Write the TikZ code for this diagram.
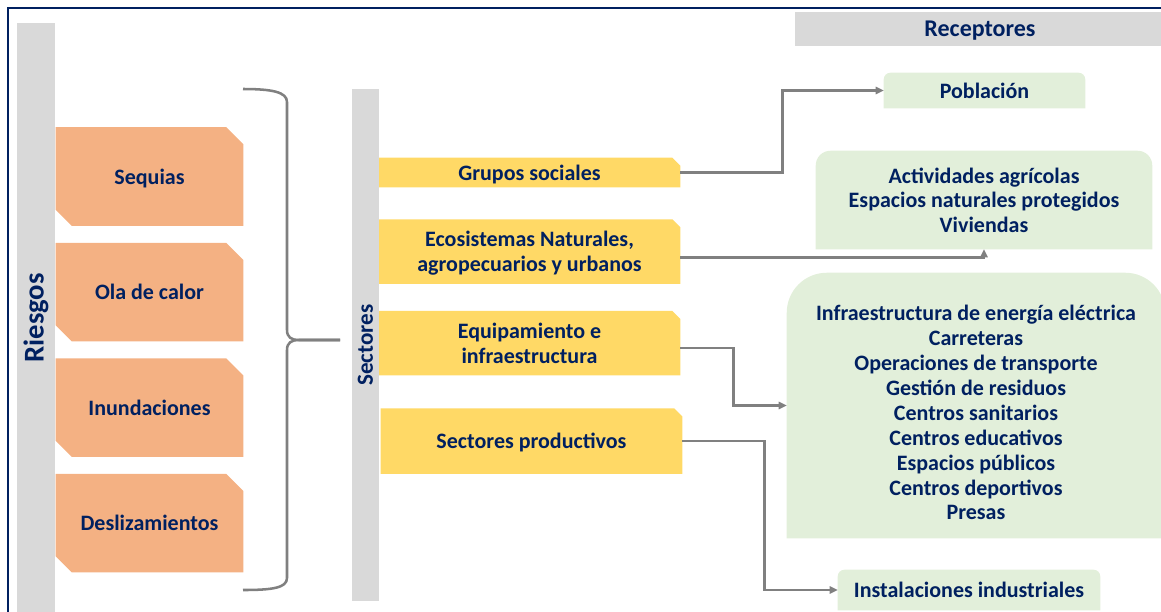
\documentclass[tikz,border=0pt]{standalone}
\usepackage{fontspec}
\setmainfont{Carlito}
\usepackage{tikz}
\usetikzlibrary{arrows.meta,positioning,backgrounds}

\definecolor{navy}{RGB}{0, 32, 96}
\definecolor{bargray}{RGB}{217, 217, 217}
\definecolor{peach}{RGB}{244, 177, 131}
\definecolor{gold}{RGB}{255, 217, 102}
\definecolor{mint}{RGB}{226, 239, 218}
\definecolor{wire}{RGB}{128, 128, 128}

\tikzstyle{txt} = [text=navy, font=\bfseries\fontsize{16.5}{18.5}\selectfont, align=center, inner sep=0pt, text depth=0pt]
\tikzstyle{riesgo} = [txt, minimum width=140.25pt, minimum height=73.5pt]
\tikzstyle{sector} = [txt, minimum width=225.75pt, minimum height=48pt]
\tikzstyle{bar} = [fill=bargray, text=navy, inner sep=0pt]
\tikzstyle{tedge} = [draw=wire, line width=2pt, >={Triangle[length=6pt,width=5.5pt]}, ->]
\tikzstyle{brace} = [draw=wire, line width=1.9pt]

% box outlines
\newcommand{\snipboth}[1]{\fill[peach] (#1.north west) -- ([xshift=-12.75pt]#1.north east) -- ([yshift=-12.75pt]#1.north east) -- (#1.south east) -- ([xshift=12pt]#1.south west) -- ([yshift=12pt]#1.south west) -- cycle;}
\newcommand{\snipone}[1]{\fill[gold] (#1.north west) -- ([xshift=-6pt]#1.north east) -- ([yshift=-6pt]#1.north east) -- (#1.south east) -- (#1.south west) -- cycle;}
\newcommand{\toparc}[2]{\fill[mint] (#1.south west) [rounded corners=#2] -- (#1.north west) -- (#1.north east) [sharp corners] -- (#1.south east) -- cycle;}

\begin{document}
\begin{tikzpicture}[x=0.75pt, y=-0.75pt]
\useasboundingbox (0,0) rectangle (1161,611);
\clip (0,0) rectangle (1161,611);

% frame
\draw[navy, line width=1.5pt] (8,620) -- (8,7.5) -- (1170,7.5);

% Riesgos =============================
\node[bar, rotate=90, minimum width=442.5pt, minimum height=28.5pt, font=\bfseries\fontsize{21.5}{24}\selectfont] (rbar) at (36,318) {Riesgos};

\node[riesgo] (seq) at (149.5,176.5) {Sequias};
\node[riesgo, below=12.75pt of seq] (ola) {Ola de calor};
\node[riesgo, below=12.75pt of ola] (inu) {Inundaciones};
\node[riesgo, below=12.75pt of inu] (des) {Deslizamientos};

% Sectores =============================
\node[bar, rotate=90, minimum width=384pt, minimum height=20.25pt, font=\bfseries\fontsize{17.3}{19}\selectfont] (sbar) at (365.5,345) {Sectores};

\node[sector, minimum height=21.75pt] (grp) at (529.5,172.5) {Grupos sociales};
\node[sector, below=24pt of grp] (eco) {Ecosistemas Naturales,\\agropecuarios y urbanos};
\node[sector, below=20.25pt of eco] (equ) {Equipamiento e\\infraestructura};
\node[sector, below=24.75pt of equ, xshift=1.5pt, minimum height=48.75pt] (pro) {Sectores productivos};

% Receptores =============================
\node[bar, minimum width=277.5pt, minimum height=25.5pt, text depth=0pt, font=\bfseries\fontsize{18}{20}\selectfont] (rhead) at (980,29) {Receptores};

\node[txt, minimum width=150.75pt, minimum height=26.25pt] (pob) at (984.5,90.5) {Población};
\node[txt, minimum width=252pt, minimum height=73.5pt] (act) at (984,200) {Actividades agrícolas\\Espacios naturales protegidos\\Viviendas};
\node[minimum width=283.5pt, minimum height=198.75pt, inner sep=0pt] (infbox) at (976,405.5) {};
\node[txt, font=\bfseries\fontsize{16.5}{18.7}\selectfont] (inf) at (976,412.5) {Infraestructura de energía eléctrica\\Carreteras\\Operaciones de transporte\\Gestión de residuos\\Centros sanitarios\\Centros educativos\\Espacios públicos\\Centros deportivos\\Presas};
\node[txt, minimum width=196.5pt, minimum height=30pt] (ins) at (969,590) {Instalaciones industriales};

% fills
\begin{scope}[on background layer]
\foreach \n in {seq,ola,inu,des} {\snipboth{\n}}
\foreach \n in {grp,eco,equ,pro} {\snipone{\n}}
\toparc{pob}{5pt}
\toparc{act}{11pt}
\toparc{infbox}{30pt}
\toparc{ins}{5pt}
\end{scope}

% brace
\coordinate (bt) at (243,89);
\coordinate (bb) at (243,590);
\coordinate (bm) at (340,340);
\path[brace] (bt) .. controls (272,89) and (287,92) .. (287,102) -- (287,330) .. controls (287,337) and (291,340) .. (299,340) -- (bm);
\path[brace] (bm) -- (299,340) .. controls (291,340) and (287,343) .. (287,350) -- (287,578) .. controls (287,588) and (272,590) .. (bb);

% edges
\path[tedge] (grp.east) -- ++(102,0) |- (pob.west);
\path[tedge] ([yshift=-4.5pt]eco.east) -| (act.south);
\path[tedge] ([yshift=-3.75pt]equ.east) -- ++(53,0) |- (infbox.west);
\path[tedge] (pro.east) -- ++(82,0) |- (ins.west);

\end{tikzpicture}
\end{document}
